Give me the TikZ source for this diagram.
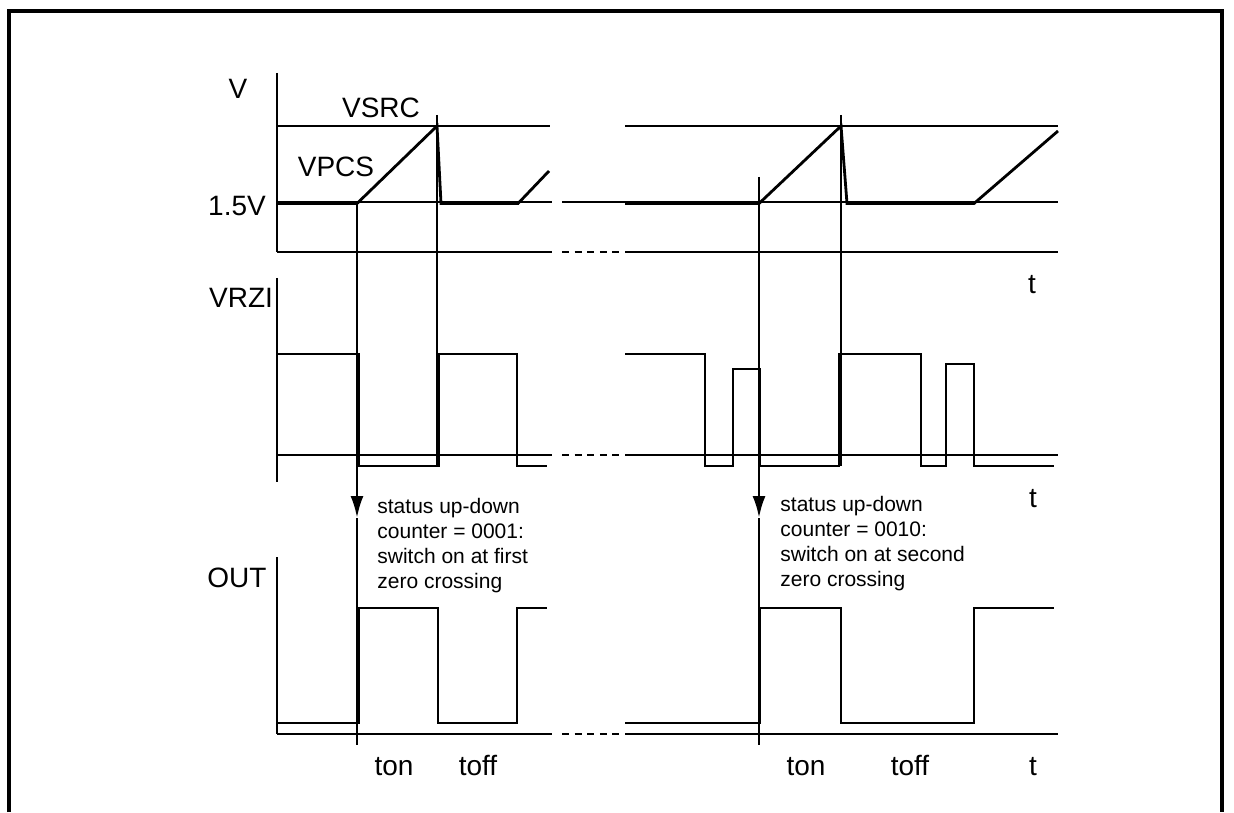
\documentclass[tikz,border=0pt]{standalone}
\usepackage{fontspec}
\setmainfont{Liberation Sans}
\usetikzlibrary{arrows.meta}

\begin{document}
\begin{tikzpicture}[
        x=0.5pt, y=-0.5pt,
        line width=1.4pt,
        every node/.style={inner sep=0pt},
        lbl/.style={font=\fontsize{14}{16}\selectfont},
        tlbl/.style={lbl, anchor=base},
        note/.style={font=\fontsize{10.5}{12.5}\selectfont, align=left, anchor=north west},
        gap/.style={dash pattern=on 3.5pt off 2.8pt},
        marker/.style={-{Latex[length=11pt,width=6.5pt]}}
        ]
        \useasboundingbox (0,0) rectangle (1234,812);
        % Frame
        \draw[line width=1.6pt] (9,812) -- (9,11) -- (1222,11) -- (1222,812);

        % Labels
        \node[lbl] (vname) at (238,89) {V};
        \node[lbl] (vsrc) at (381,108) {VSRC};
        \node[lbl] (vpcs) at (336,167) {VPCS};
        \node[lbl] (vref) at (237,206) {1.5V};
        \node[lbl] (vrzi) at (241,298) {VRZI};
        \node[lbl] (out) at (237,578) {OUT};
        \node[tlbl] (tv) at (1032,293) {t};
        \node[tlbl] (trzi) at (1033,507) {t};
        \node[tlbl] (tout) at (1033,775) {t};
        \node[tlbl] (ton1) at (394,775) {ton};
        \node[tlbl] (toff1) at (478,775) {toff};
        \node[tlbl] (ton2) at (806,775) {ton};
        \node[tlbl] (toff2) at (910,775) {toff};
        \node[note] (first) at (376,497) {status up-down\\counter = 0001:\\switch on at first\\zero crossing};
        \node[note] (second) at (779,495) {status up-down\\counter = 0010:\\switch on at second\\zero crossing};

        % Axes
        \draw (277,73) -- (277,252);
        \draw (277,278) -- (277,482);
        \draw (277,557) -- (277,734);
        \foreach \y in {252,455,734} {
            \draw (277,\y) -- (552,\y);
            \draw[gap] (562,\y) -- (625,\y);
            \draw (625,\y) -- (1058,\y);
        }

        % VSRC and 1.5V levels
        \draw (277,126) -- (550,126);
        \draw (625,126) -- (1058,126);
        \draw (277,202) -- (552,202);
        \draw (562,202) -- (1058,202);

        % VPCS
        \draw (277,203.5) -- (357,203.5) -- (437,126) -- (441,203.5) -- (518,203.5) -- (549,171);
        \draw (625,203.5) -- (759,203.5) -- (841,126) -- (847,203.5) -- (974,203.5) -- (1058,131);

        % VRZI
        \draw (277,354) -- (359,354) -- (359,466) -- (439,466) -- (439,354) -- (517,354)
              -- (517,466) -- (547,466);
        \draw (625,354) -- (705,354) -- (705,466) -- (733,466) -- (733,369) -- (760,369)
              -- (760,466) -- (839,466) -- (839,354) -- (921,354) -- (921,466) -- (946,466)
              -- (946,364) -- (974,364) -- (974,466) -- (1054,466);

        % OUT
        \draw (277,723) -- (359,723) -- (359,608) -- (438,608) -- (438,723) -- (517,723)
              -- (517,608) -- (547,608);
        \draw (625,723) -- (760,723) -- (760,608) -- (841,608) -- (841,723) -- (974,723)
              -- (974,608) -- (1054,608);

        % Switching instants
        \coordinate (on1) at (357,202);
        \coordinate (tip1) at (357,518);
        \coordinate (end1) at (357,745);
        \coordinate (on2) at (759,177);
        \coordinate (tip2) at (759,518);
        \coordinate (end2) at (759,745);
        \draw[marker] (on1) -- (tip1);
        \draw (tip1) -- (end1);
        \draw[marker] (on2) -- (tip2);
        \draw (tip2) -- (end2);
        \draw (437,115) -- (437,466);
        \draw (841,115) -- (841,466);
    \end{tikzpicture}
\end{document}
